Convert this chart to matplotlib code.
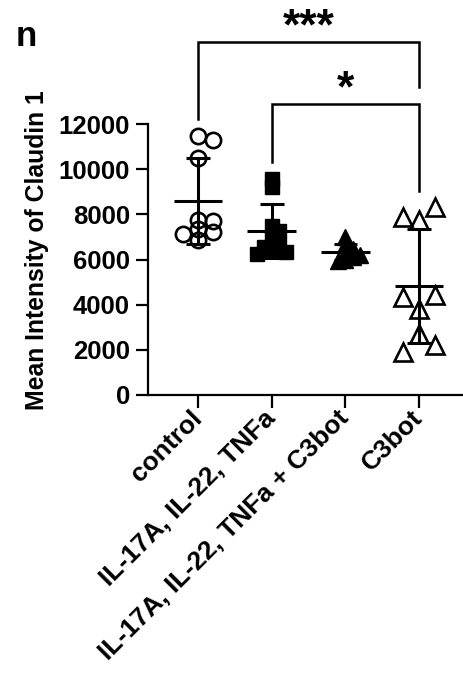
import numpy as np
import matplotlib
matplotlib.use("Agg")
import matplotlib.pyplot as plt

plt.rcParams["font.family"] = ["Liberation Sans", "DejaVu Sans"]
plt.rcParams["font.weight"] = "bold"

# ---------------------------------------------------------------------------
# Data
# ---------------------------------------------------------------------------
groups = ["control", "IL-17A, IL-22, TNFa", "IL-17A, IL-22, TNFa + C3bot", "C3bot"]
control = [11450, 11300, 10500, 7750, 7700, 7350, 7200, 7150, 6850]
cytokines = [9570, 9200, 7500, 7280, 6920, 6620, 6550, 6400, 6330, 6260]
cytokines_c3bot = [7000, 6650, 6450, 6300, 6100, 6000, 5950, 6200]
c3bot = [7730, 8310, 7870, 3830, 4420, 4340, 2720, 2210, 1910]
yticks = [0, 2000, 4000, 6000, 8000, 10000, 12000]
# significance brackets: (group a, group b, label)
comparisons = [(0, 3, "***"), (1, 3, "*")]

# ---------------------------------------------------------------------------
# Styling
# ---------------------------------------------------------------------------
series = [control, cytokines, cytokines_c3bot, c3bot]
styles = [
    dict(marker="o", ms=11, mfc="none", mec="black", mew=1.9),
    dict(marker="s", ms=9.5, mfc="black", mec="black", mew=1.0),
    dict(marker="^", ms=11.5, mfc="black", mec="black", mew=1.0),
    dict(marker="^", ms=13, mfc="none", mec="black", mew=1.9),
]
# swarm settings per group: (min pixel gap, step in category units, x weight)
swarm_opts = [(9.0, 0.1, 1.0), (8.0, 0.1, 1.0), (6.0, 0.1, 1.0), (19.0, 0.215, 1.3)]
PX_X = 73.67      # pixels per category unit
PX_Y = 22.65e-3   # pixels per intensity unit


def swarm(values, gap_px, step, xw):
    """Greedy swarm offsets so markers overlap only partly."""
    placed = []
    offsets = []
    for v in values:
        cands = [0.0]
        for k in range(1, 6):
            cands += [k * step, -k * step]
        for c in cands:
            ok = True
            for (pc, pv) in placed:
                dx = (c - pc) * PX_X * xw
                dy = (v - pv) * PX_Y
                if np.hypot(dx, dy) < gap_px:
                    ok = False
                    break
            if ok:
                break
        placed.append((c, v))
        offsets.append(c)
    return np.array(offsets)


fig = plt.figure(figsize=(4.64, 6.76), dpi=100)
ax = fig.add_axes([148 / 464, 1 - 395 / 676, 316 / 464, (395 - 124) / 676])

for i, (vals, st) in enumerate(zip(series, styles)):
    vals = np.array(vals, dtype=float)
    xs = i + swarm(vals, *swarm_opts[i])
    ax.plot(xs, vals, ls="none", zorder=2, clip_on=False, **st)
    m = vals.mean()
    sd = vals.std(ddof=1)
    ax.hlines(m, i - 0.33, i + 0.33, color="black", lw=2.2, zorder=3)
    ax.hlines([m - sd, m + sd], i - 0.16, i + 0.16, color="black", lw=2.2, zorder=3)
    ax.vlines(i, m - sd, m + sd, color="black", lw=2.2, zorder=3)

# significance brackets
bracket_y = [15630, 12890]
leg_low = [(12230, 13640), (10330, 9050)]
for (a, b, lab), top, (la, lb) in zip(comparisons, bracket_y, leg_low):
    ax.plot([a, a, b, b], [la, top, top, lb], color="black", lw=1.8,
            clip_on=False, solid_joinstyle="miter")
    ax.text((a + b) / 2, top - 300, lab, ha="center", va="bottom",
            fontsize=32, fontweight="bold")

ax.set_xlim(-0.68, 3.61)
ax.set_ylim(0, 12000)
ax.set_yticks(yticks)
ax.set_yticklabels([str(t) for t in yticks], fontsize=18.5, fontweight="bold")
ax.set_xticks(range(len(groups)))
ax.set_xticklabels(groups, rotation=45, ha="right", va="center",
                   rotation_mode="anchor", fontsize=19, fontweight="bold")
ax.tick_params(axis="both", length=9, width=1.6, direction="out")
ax.tick_params(axis="y", pad=4)
ax.tick_params(axis="x", pad=5)
for s in ["top", "right"]:
    ax.spines[s].set_visible(False)
for s in ["left", "bottom"]:
    ax.spines[s].set_linewidth(1.6)

fig.text(37 / 464, 1 - 250 / 676, "Mean Intensity of Claudin 1", rotation=90,
         ha="center", va="center", fontsize=17.8, fontweight="bold")
fig.text(16 / 464, 1 - 37 / 676, "n", ha="left", va="center",
         fontsize=25, fontweight="bold")

fig.savefig("out.png", dpi=100)
